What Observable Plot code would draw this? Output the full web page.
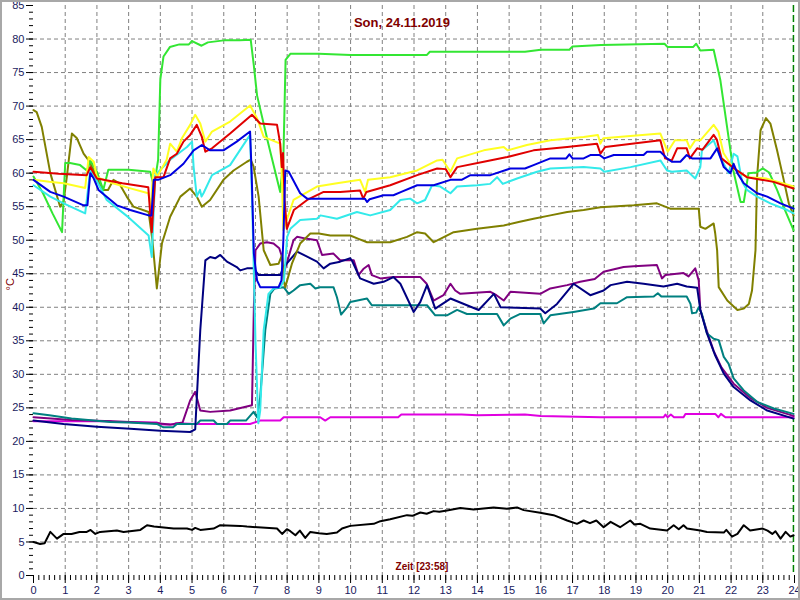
<!DOCTYPE html>
<html>
<head>
<meta charset="utf-8">
<script src="https://cdn.jsdelivr.net/npm/d3@7"></script>
<script src="https://cdn.jsdelivr.net/npm/@observablehq/plot@0.6"></script>
<style>
  body { margin: 0; background: #fff; }
  #chart svg { display: block; outline: 2px solid #a8a8a8; outline-offset: -2px; }
</style>
</head>
<body>
<div id="chart"></div>
<script>
// ---- data: [hour, °C] ----
const title = "Son, 24.11.2019";
const xLabel = "Zeit [23:58]";
const yLabel = "°C";
const nowHour = 23 + 58 / 60;
const hourTicks = d3.range(0, 25, 1);
const tempTicks = d3.range(0, 86, 5);

const green = [[0,59.5],[0.3,57],[0.6,54],[0.9,51.2],[1.0,61.5],[1.15,61.5],[1.47,61.2],[1.68,60.4],[1.8,61.8],[2.0,60.2],[2.2,57.5],[2.36,60.5],[3.0,60.5],[3.68,60.2],[3.8,58],[3.93,62],[4.0,74],[4.1,77.4],[4.3,78.8],[4.6,79.2],[4.9,79.2],[5.0,79.7],[5.3,79.0],[5.5,79.5],[6.0,79.8],[6.5,79.8],[6.85,79.9],[6.95,76],[7.05,71.6],[7.4,64.5],[7.78,57.2],[7.88,62],[7.95,76.9],[8.1,77.8],[9,77.8],[10,77.6],[11,77.6],[12.4,77.6],[12.5,78.1],[15.5,78.1],[16,78.4],[16.9,78.4],[17.0,78.9],[17.9,79.1],[19.9,79.3],[20.0,78.8],[20.8,78.8],[20.9,79.3],[21.03,78.3],[21.45,78.4],[21.66,73.9],[22.07,60.4],[22.3,55.7],[22.4,55.7],[22.55,60],[22.8,60.1],[23.0,60.7],[23.2,60.1],[23.45,57.5],[23.7,54.5],[23.97,51.5]];

const yellow = [[0,59.0],[0.5,58.7],[0.95,58.5],[1.63,57.8],[1.74,62.4],[1.9,61.7],[2.0,59.4],[2.5,58.5],[3.0,57.8],[3.62,57],[3.7,55],[3.78,60.7],[3.9,59.5],[4.2,62],[4.31,64.4],[4.52,63.2],[4.68,65.2],[4.94,67.2],[5.1,68.7],[5.26,67.4],[5.42,64.7],[5.63,66.2],[6.2,67.7],[6.83,70.1],[7.05,68.2],[7.26,65.4],[7.78,64.4],[7.83,60],[7.88,51.5],[8.2,56],[8.94,58],[9.57,58.5],[10.3,59],[10.46,57.2],[10.55,59],[11.25,59.4],[12.1,60.4],[12.73,61.9],[12.9,62],[13.15,60.2],[13.36,62.2],[14.2,63.4],[14.83,63.9],[14.95,63.4],[15.56,64.2],[16.3,64.9],[17.35,65.4],[17.8,65.7],[17.88,64.4],[17.97,65.2],[19.77,65.9],[20.0,63.2],[20.23,64.9],[20.6,64.9],[20.7,63.7],[20.87,64.9],[21.03,64.9],[21.45,67.2],[21.6,66.2],[21.76,63],[22.07,60.7],[22.5,59.4],[23.1,59.2],[23.97,58]];

const red = [[0,60.2],[0.8,59.9],[1.68,59.7],[1.79,60.9],[1.9,60.0],[2.0,59.2],[2.8,58.5],[3.62,57.9],[3.68,54],[3.73,51.2],[3.84,59.4],[4.1,59.4],[4.31,62.2],[4.52,62.9],[4.73,64.7],[4.94,65.7],[5.15,67.2],[5.31,65.4],[5.42,63.2],[5.63,63.7],[6.2,65.9],[6.89,68.7],[7.15,67.4],[7.68,67.2],[7.78,64.4],[7.83,60.9],[7.87,63],[7.92,56],[7.99,51.7],[8.21,54.5],[8.63,56],[9.15,57.2],[9.67,57.2],[10.3,57.4],[10.4,56.2],[10.5,57.2],[11.25,58.2],[12.1,59.7],[12.73,60.7],[13.0,60.6],[13.15,59.4],[13.36,60.9],[14.2,61.7],[14.94,62.4],[15.77,63.4],[16.83,63.9],[17.77,64.4],[17.88,62.9],[18.03,63.9],[19.77,64.9],[19.92,62.2],[20.13,61.9],[20.3,63.7],[20.6,63.7],[20.7,62.2],[20.93,63.7],[21.1,63.5],[21.45,65.7],[21.55,65],[21.7,62.2],[22.1,60.7],[22.5,59.4],[23.34,58.7],[23.97,57.7]];

const blue = [[0,59],[0.53,57.2],[0.95,56.5],[1.58,55.2],[1.7,55.2],[1.79,60],[1.9,59.2],[2.05,57.5],[2.63,55.2],[3.05,54.5],[3.63,53.7],[3.72,53.7],[3.79,59],[3.93,59],[4.31,59.7],[4.73,61.4],[5.05,63.4],[5.31,64.2],[5.57,63.4],[5.99,63.4],[6.41,64.7],[6.83,66.2],[6.88,60],[6.95,48],[7.05,44],[7.15,43],[7.73,43],[7.82,44],[7.88,50],[7.94,60.4],[8.05,60.2],[8.41,57],[8.63,56.2],[10.45,56.2],[10.52,55.7],[10.6,56.1],[11.04,56.7],[11.35,56.7],[11.6,57.2],[12.1,58.2],[12.62,58.2],[13.15,59],[13.5,59],[13.78,59.7],[14.41,59.7],[15.04,60.7],[15.5,60.7],[15.77,61.2],[16.3,62.2],[16.8,62.2],[16.9,62.8],[17.0,62.2],[17.35,62.2],[17.56,62.7],[17.85,62.7],[18.0,62.2],[18.3,62.7],[19.24,62.7],[19.35,63.2],[19.77,63.2],[19.98,62.2],[20.13,61.7],[20.4,61.7],[20.6,62.7],[20.77,62.2],[21.35,62.2],[21.56,63.7],[21.77,60.9],[21.98,60],[22.08,61.4],[22.2,60],[22.4,58.5],[22.82,57],[23.14,56.5],[23.56,55.5],[23.97,54.7]];

const cyan = [[0,58.2],[0.53,56.5],[0.95,55.5],[1.63,54],[1.79,60.4],[1.9,59.7],[2.31,56],[3.0,53.4],[3.63,50.7],[3.73,47.5],[3.84,59.7],[4.31,62],[4.84,63.9],[5.0,64.7],[5.05,60.9],[5.15,56.5],[5.25,57.5],[5.3,56.5],[5.36,57],[5.63,59.7],[6.2,61.2],[6.83,65.7],[6.9,55],[7.0,35],[7.09,22.7],[7.15,24.6],[7.26,36.6],[7.41,42],[7.57,42.8],[7.78,43],[7.9,44],[8.0,50.5],[8.1,51.7],[8.41,53],[8.94,53.2],[9.05,53.7],[9.57,53.2],[10.2,54.2],[10.62,53.7],[11.25,54.5],[11.57,56],[11.88,56.2],[12.1,55.5],[12.35,56],[12.57,58.2],[12.83,58],[13.15,57],[13.36,58],[13.99,58.2],[14.4,58.4],[14.62,59.4],[14.8,58.4],[15.25,59.2],[15.88,60.2],[16.3,60.7],[17.35,60.9],[17.88,60.7],[18.0,60.2],[18.83,60.9],[19.77,61.9],[19.98,60.4],[20.13,60.2],[20.6,60.4],[20.87,59.2],[21.03,60.9],[21.08,63.4],[21.45,64.9],[21.66,62.4],[21.92,60],[22.08,62.9],[22.2,62.5],[22.35,58.7],[22.5,57.5],[22.82,56.5],[23.24,55.5],[23.77,54.5],[23.97,54]];

const olive = [[0,69.4],[0.1,69.1],[0.26,66.9],[0.53,60],[0.84,55],[0.95,55.8],[1.05,59.4],[1.21,65.9],[1.37,65.2],[1.58,62.9],[1.74,61.9],[1.9,60.4],[2.16,57.5],[2.35,57.5],[2.52,59],[2.7,58.5],[2.94,56.5],[3.15,55],[3.63,54.2],[3.75,50],[3.89,42.8],[4.05,49.5],[4.31,53.5],[4.63,56.5],[4.94,57.7],[5.15,56.5],[5.31,55],[5.57,56],[5.99,59],[6.31,60.4],[6.73,61.7],[6.85,62],[6.94,61],[7.1,56.5],[7.26,48.5],[7.47,46.3],[7.73,46.5],[7.84,47.8],[7.89,44],[7.94,43],[8.15,46.5],[8.41,49.5],[8.73,51],[9.0,51],[9.36,50.7],[9.99,50.7],[10.25,50.2],[10.52,49.7],[11.25,49.7],[11.78,50.5],[12.1,51.2],[12.35,51],[12.62,49.7],[12.83,50.2],[13.25,51.2],[13.99,51.7],[14.83,52.2],[15.3,52.7],[15.77,53.2],[16.3,53.7],[16.83,54.2],[17.35,54.5],[17.88,54.9],[18.93,55.2],[19.66,55.5],[20.08,54.7],[20.98,54.7],[21.03,52],[21.19,51.7],[21.45,52.5],[21.5,51],[21.56,48.5],[21.61,43],[21.88,41],[22.2,39.6],[22.4,39.8],[22.56,40.5],[22.66,42.5],[22.77,48.5],[22.82,59.4],[22.93,66.4],[23.1,68.2],[23.24,67.4],[23.45,63.4],[23.66,59],[23.82,55.5],[23.97,53.7]];

const teal = [[0,24.2],[0.5,23.9],[1.2,23.4],[2.42,22.9],[3.0,22.8],[3.89,22.6],[4.1,22.1],[4.4,22.1],[4.52,22.6],[5.15,22.6],[5.26,23.1],[5.68,23.1],[5.79,22.6],[6.1,22.6],[6.2,23.1],[6.7,23.1],[6.94,24.4],[7.05,23.6],[7.15,26.6],[7.31,36.6],[7.47,42],[7.6,42.8],[7.89,43],[8.05,42],[8.2,42.5],[8.41,43.3],[8.73,43.5],[8.89,42.8],[9.04,43],[9.46,43],[9.57,41.5],[9.7,38.9],[9.89,40],[9.99,40.8],[10.52,41.3],[10.67,40.3],[12.41,40.3],[12.67,38.8],[13.04,38.8],[13.36,39.6],[13.67,39],[14.62,39],[14.83,37.3],[15.04,38.3],[15.35,39],[15.98,39],[16.09,37.6],[16.3,38.8],[17.03,39.3],[17.67,39.8],[17.88,40.6],[18.4,40.6],[18.72,41.5],[19.56,41.6],[19.69,42.1],[19.8,41.6],[20.6,41.6],[20.72,40.5],[20.77,39.1],[20.9,39.2],[20.98,40],[21.08,39],[21.24,36.1],[21.45,35.3],[21.61,35.1],[21.77,32.6],[21.92,31.6],[22.08,29.4],[22.4,27.6],[22.82,25.9],[23.35,24.9],[23.97,24.1]];

const navy = [[0,23.1],[0.95,22.6],[2.0,22.2],[3.05,21.9],[4.0,21.6],[4.94,21.4],[5.1,21.8],[5.26,36.6],[5.42,47],[5.57,47.5],[5.73,47.3],[5.89,47.8],[6.1,46.8],[6.41,46],[6.52,45.5],[6.73,45.8],[6.94,45.8],[7.1,44.8],[7.78,44.8],[7.89,46],[8.31,48.3],[8.52,47.8],[8.94,46.8],[9.15,45.8],[9.36,46.5],[9.67,46.8],[9.99,47.3],[10.05,46.9],[10.3,44.3],[10.73,43.5],[11.04,43.8],[11.35,44.5],[11.57,43.5],[11.99,39.3],[12.2,40.8],[12.41,43.3],[12.67,39.8],[13.15,41.3],[13.67,40.3],[14.04,39.6],[14.52,42],[14.73,40],[15.98,39.8],[16.14,39.1],[16.51,40.5],[17.03,43.5],[17.56,41.8],[17.98,42.5],[18.2,43.3],[18.72,43.8],[19.24,43.5],[19.87,43.1],[20.3,43.5],[20.6,43.1],[20.93,42.9],[21.03,39.6],[21.24,36.1],[21.5,32.8],[21.77,30.1],[22.08,28.1],[22.61,26.1],[23.14,24.6],[23.97,23.4]];

const purple = [[0,23.6],[1.2,23.2],[2.5,23.0],[3.9,22.7],[4.3,22.5],[4.7,22.8],[4.94,26.1],[5.1,27.4],[5.26,24.6],[5.57,24.4],[6.2,24.6],[6.89,25.4],[6.95,40],[7.0,48.5],[7.15,49.5],[7.36,49.7],[7.57,49.5],[7.75,48.8],[7.84,47.5],[7.89,45],[7.95,46],[8.2,50],[8.31,50.5],[8.63,50.2],[8.94,50],[9.1,47.8],[9.46,48],[9.67,47],[10.1,47],[10.25,44.8],[10.4,45.7],[10.57,46.3],[10.67,44.8],[10.94,44.3],[11.35,44.5],[12.2,44.5],[12.4,43.5],[12.62,41],[12.93,41.8],[13.15,43.5],[13.3,42.5],[13.46,42],[14.41,42.3],[14.6,41.8],[14.83,41],[15.04,42.3],[15.98,42],[16.3,42.8],[16.83,43.3],[17.24,43.8],[17.7,44.2],[17.98,45.3],[18.61,46],[18.93,46.1],[19.66,46.3],[19.82,44.3],[19.93,44.8],[20.5,45.1],[20.66,44.6],[20.87,45.8],[20.98,44],[21.03,39.6],[21.24,36.4],[21.45,33.5],[21.7,31],[22.08,28.6],[22.6,26.5],[23.14,25],[23.97,23.8]];

const magenta = [[0,23.0],[2.4,23.0],[2.5,22.9],[3.9,22.8],[4.1,22.5],[4.4,22.5],[4.5,22.7],[5.15,22.6],[6.83,22.6],[7.15,23.1],[7.78,23.1],[7.89,23.6],[9.04,23.6],[9.2,23.1],[9.36,23.6],[11.5,23.6],[11.6,24.0],[13.5,24.0],[14,23.9],[15.5,24.0],[16,23.8],[17.88,23.6],[19.87,23.6],[19.93,24.0],[20.0,23.6],[20.1,24.0],[20.2,23.6],[20.5,23.6],[20.56,24.1],[21.5,24.1],[21.6,23.6],[21.68,24.1],[21.82,23.6],[23.97,23.6]];

const black = [[0,5],[0.21,4.7],[0.35,4.8],[0.53,6.5],[0.74,5.5],[0.95,6.2],[1.2,6.2],[1.45,6.5],[1.68,6.5],[1.8,6.8],[1.95,6.2],[2.1,6.5],[2.63,6.7],[2.84,6.5],[3.37,6.8],[3.58,7.5],[3.8,7.3],[4.42,7.0],[4.84,7.0],[5.0,6.8],[5.1,7.1],[5.26,6.8],[5.68,7.0],[5.89,7.5],[6.52,7.4],[6.73,7.3],[7.68,7.0],[7.84,6.2],[7.99,6.9],[8.1,6.6],[8.26,6.0],[8.4,6.7],[8.57,5.6],[8.73,6.5],[9.0,6.3],[9.25,6.2],[9.57,6.4],[9.73,7.0],[9.99,7.4],[10.73,7.7],[10.94,8.1],[11.25,8.4],[11.78,9.0],[11.95,8.9],[12.2,9.4],[12.4,9.2],[12.62,9.6],[12.8,9.5],[13.04,9.7],[13.46,10.05],[13.88,9.85],[14.51,10.15],[14.93,9.95],[15.25,10.15],[15.46,9.75],[15.98,9.35],[16.4,9.0],[16.83,8.2],[17.14,7.7],[17.35,8.2],[17.55,7.8],[17.75,8.2],[17.98,7.2],[18.2,8.0],[18.5,7.2],[18.82,8.2],[18.95,7.6],[19.14,7.7],[19.45,7.0],[19.98,6.7],[20.19,7.5],[20.35,6.9],[20.5,7.5],[20.61,7.0],[21.03,6.7],[21.24,6.5],[21.77,6.4],[21.85,6.8],[22.03,5.8],[22.2,6.2],[22.4,7.5],[22.6,6.7],[23.0,7.0],[23.15,6.7],[23.3,6.2],[23.4,6.6],[23.56,5.5],[23.72,6.5],[23.87,5.8],[23.97,6.0]];

// drawing order (bottom to top) and colours
const seriesList = [
  [magenta, "#e000e0"],
  [purple, "#800080"],
  [teal, "#008080"],
  [navy, "#000080"],
  [black, "#000000"],
  [olive, "#808000"],
  [green, "#33e633"],
  [cyan, "#33eaea"],
  [yellow, "#ffff22"],
  [red, "#e00000"],
  [blue, "#0000e0"]
];

const labelColor = "#800000";
const tickTextColor = "#1a1a60";
const font = "'Liberation Sans', Arial, sans-serif";

const lineMarks = seriesList.map(([d, c]) =>
  Plot.line(d, {x: p => p[0], y: p => p[1], stroke: c, strokeWidth: 2, strokeLinejoin: "round"})
);

const minorY = d3.range(0, 86, 1);
const minorX = d3.range(0, 145, 1).map(i => i / 6);
const noText = () => "";

const chart = Plot.plot({
  width: 800,
  height: 600,
  marginLeft: 33,
  marginRight: 6,
  marginTop: 5,
  marginBottom: 25,
  style: {fontFamily: font, background: "#fff", color: "#000"},
  x: {domain: [0, 24]},
  y: {domain: [0, 85]},
  marks: [
    Plot.gridX(d3.range(1, 24), {stroke: "#808080", strokeOpacity: 1, strokeDasharray: "4,3"}),
    Plot.gridY(d3.range(5, 85, 5), {stroke: "#808080", strokeOpacity: 1, strokeDasharray: "4,3"}),
    Plot.ruleX([nowHour], {stroke: "#008000", strokeWidth: 1.5, strokeDasharray: "7,3"}),
    // y axis: minor ticks, then major ticks with labels
    Plot.axisY(minorY, {tickSize: 4, tickFormat: noText, label: null, stroke: "#000"}),
    Plot.axisY(tempTicks, {tickSize: 7, tickPadding: 2, fontSize: 11, label: null, stroke: "#000", fill: tickTextColor}),
    // x axis
    Plot.axisX(minorX, {tickSize: 5, tickFormat: noText, label: null, stroke: "#000"}),
    Plot.axisX(hourTicks, {tickSize: 8, tickPadding: 3, fontSize: 11, label: null, stroke: "#000", fill: tickTextColor}),
    ...lineMarks,
    Plot.text([title], {frameAnchor: "top", dx: -12, dy: 12, fill: labelColor, fontSize: 13, fontWeight: "bold"}),
    Plot.text([xLabel], {frameAnchor: "bottom", dx: 8, dy: -6, fill: labelColor, fontSize: 10, fontWeight: "bold"}),
    Plot.text([yLabel], {frameAnchor: "left", dx: -23, rotate: -90, fill: labelColor, fontSize: 11})
  ]
});

document.getElementById("chart").append(chart);
</script>
</body>
</html>
